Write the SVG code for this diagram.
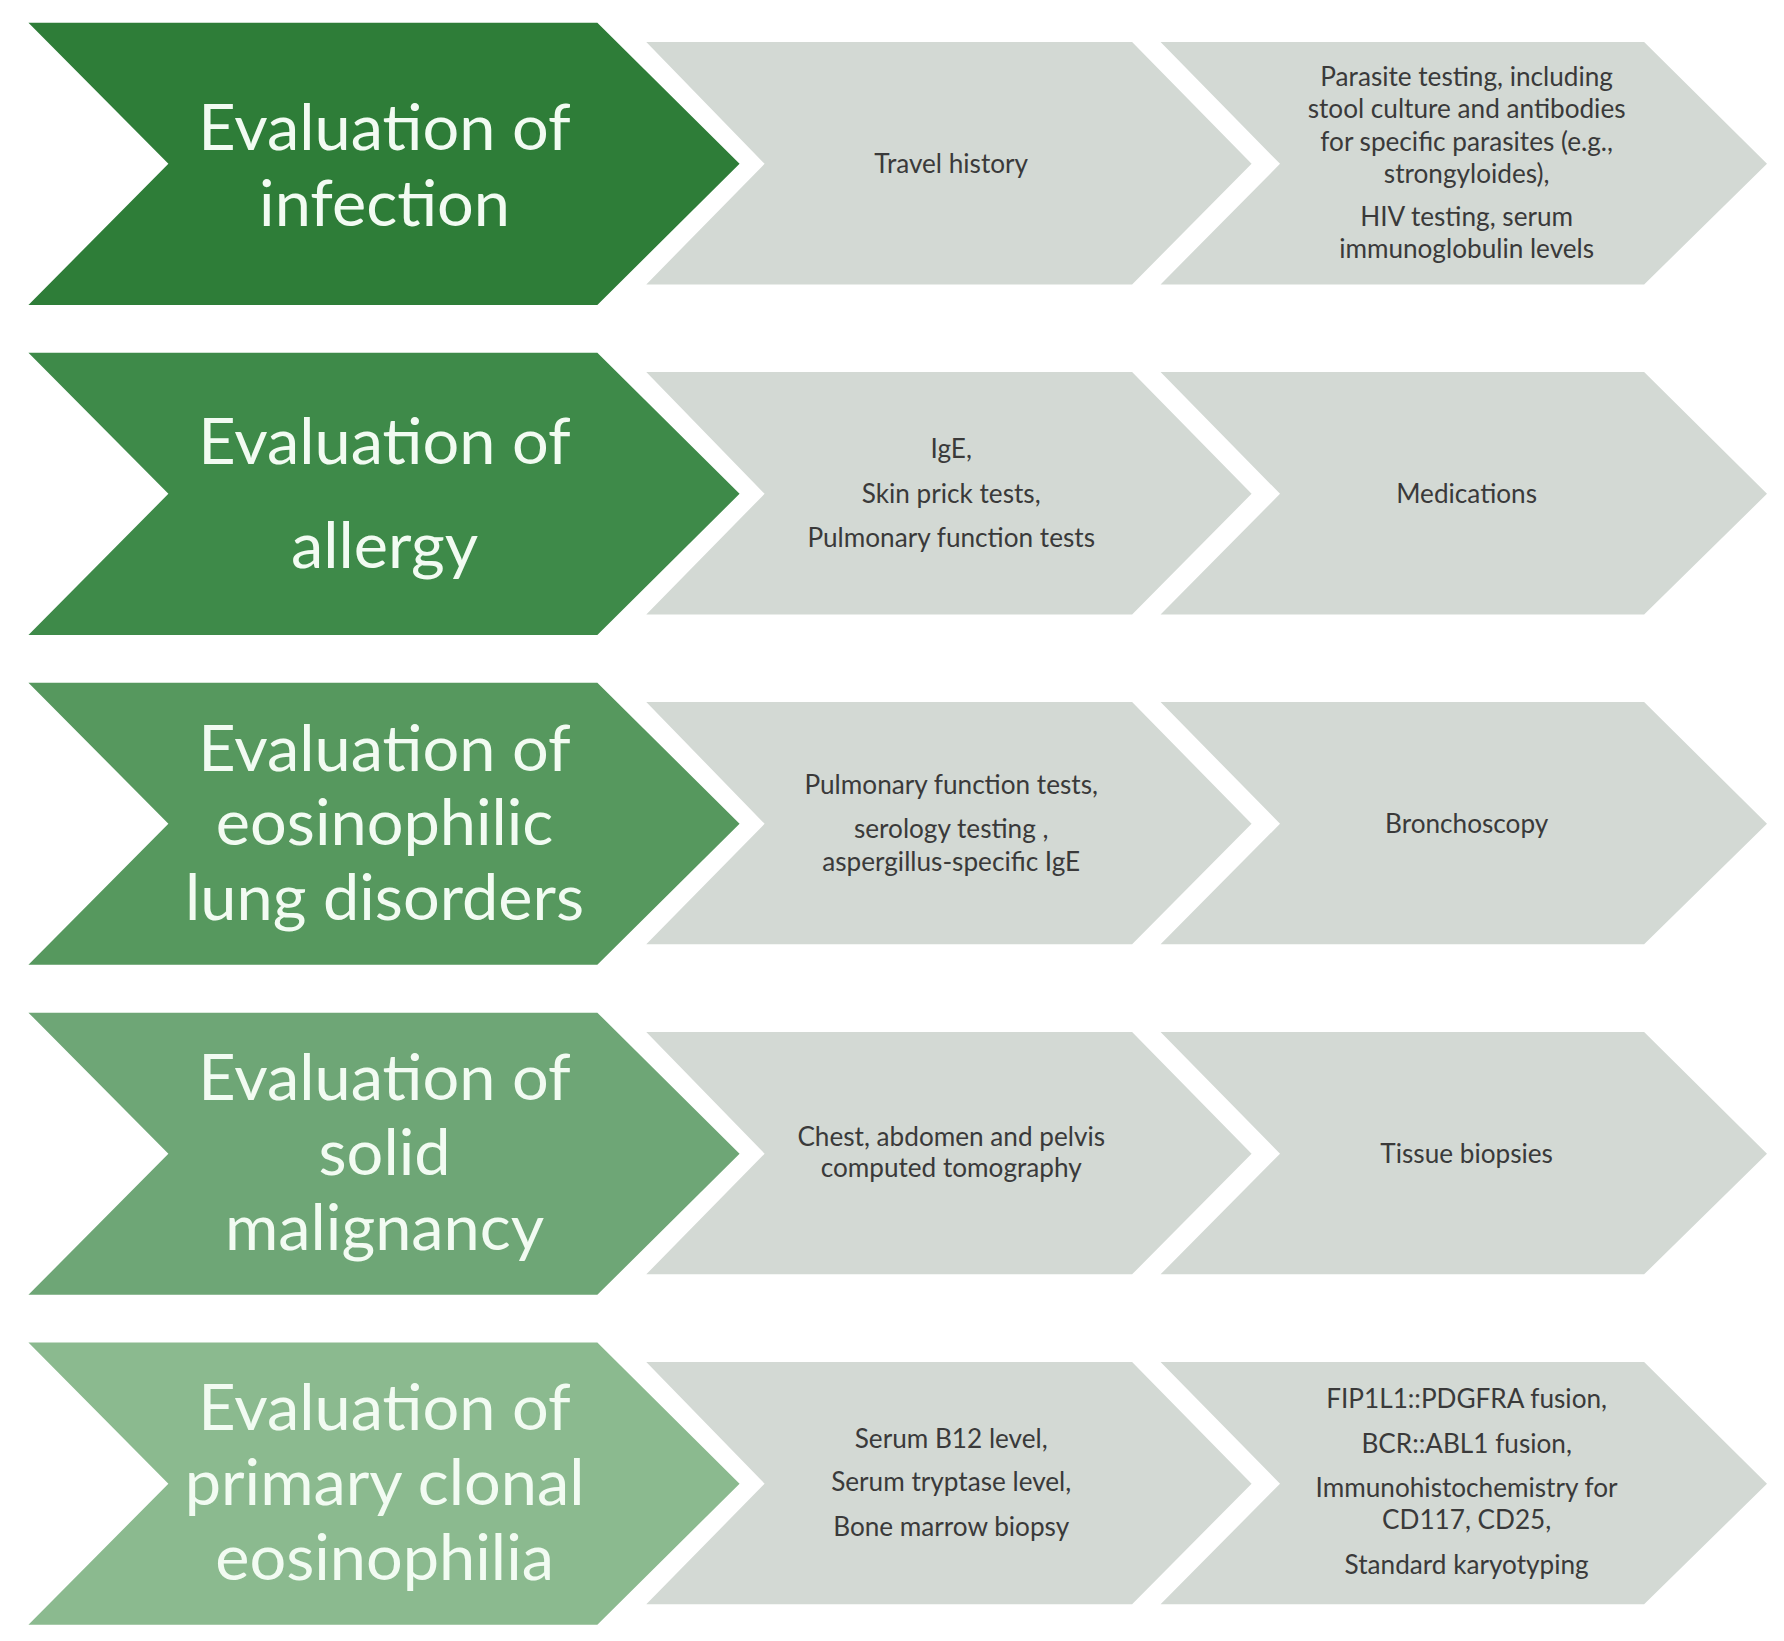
<svg xmlns="http://www.w3.org/2000/svg" width="1784" height="1641" viewBox="0 0 1784 1641">
<style>
.t{font-family:Lato,"Open Sans",sans-serif;fill:#f2fbf2;font-size:57px;text-anchor:middle;dominant-baseline:central}
.s{font-family:Lato,"Open Sans",sans-serif;fill:#3a3a3a;font-size:23px;text-anchor:middle;dominant-baseline:central}
.g{fill:#d3d9d4}
</style>
<defs>
<path id="big" d="M25,0 H525 L650,124 L525,248 H25 L148,124 Z"/>
<path id="c1" d="M568,17 H995 L1100,124 L995,230 H568 L672,124 Z"/>
<path id="c2" d="M1020,17 H1445 L1553,124 L1445,230 H1020 L1125,124 Z"/>
</defs>
<rect width="1784" height="1641" fill="#fff"/>
<g transform="scale(1.1378)">
<g id="row1" transform="translate(0,20)">
<use href="#big" fill="#2e7d38"/><use href="#c1" class="g"/><use href="#c2" class="g"/>
<text class="t" x="338" y="90">Evaluation of</text><text class="t" x="338" y="157">infection</text>
<text class="s" x="836" y="123">Travel history</text>
<text class="s" x="1289" y="47">Parasite testing, including</text>
<text class="s" x="1289" y="75">stool culture and antibodies</text>
<text class="s" x="1289" y="104">for specific parasites (e.g.,</text>
<text class="s" x="1289" y="132">strongyloides),</text>
<text class="s" x="1289" y="170">HIV testing, serum</text>
<text class="s" x="1289" y="198">immunoglobulin levels</text>
</g>
<g id="row2" transform="translate(0,310)">
<use href="#big" fill="#3e8a49"/><use href="#c1" class="g"/><use href="#c2" class="g"/>
<text class="t" x="338" y="76">Evaluation of</text><text class="t" x="338" y="167">allergy</text>
<text class="s" x="836" y="84">IgE,</text>
<text class="s" x="836" y="123">Skin prick tests,</text>
<text class="s" x="836" y="162">Pulmonary function tests</text>
<text class="s" x="1289" y="123">Medications</text>
</g>
<g id="row3" transform="translate(0,600)">
<use href="#big" fill="#56985e"/><use href="#c1" class="g"/><use href="#c2" class="g"/>
<text class="t" x="338" y="56">Evaluation of</text><text class="t" x="338" y="121">eosinophilic</text><text class="t" x="338" y="187">lung disorders</text>
<text class="s" x="836" y="89">Pulmonary function tests,</text>
<text class="s" x="836" y="128">serology testing ,</text>
<text class="s" x="836" y="157">aspergillus-specific IgE</text>
<text class="s" x="1289" y="123">Bronchoscopy</text>
</g>
<g id="row4" transform="translate(0,890)">
<use href="#big" fill="#6ea676"/><use href="#c1" class="g"/><use href="#c2" class="g"/>
<text class="t" x="338" y="55">Evaluation of</text><text class="t" x="338" y="121">solid</text><text class="t" x="338" y="187">malignancy</text>
<text class="s" x="836" y="108">Chest, abdomen and pelvis</text>
<text class="s" x="836" y="136">computed tomography</text>
<text class="s" x="1289" y="123">Tissue biopsies</text>
</g>
<g id="row5" transform="translate(0,1180)">
<use href="#big" fill="#8bba8f"/><use href="#c1" class="g"/><use href="#c2" class="g"/>
<text class="t" x="338" y="55">Evaluation of</text><text class="t" x="338" y="121">primary clonal</text><text class="t" x="338" y="187">eosinophilia</text>
<text class="s" x="836" y="84">Serum B12 level,</text>
<text class="s" x="836" y="122">Serum tryptase level,</text>
<text class="s" x="836" y="161">Bone marrow biopsy</text>
<text class="s" x="1289" y="49">FIP1L1::PDGFRA fusion,</text>
<text class="s" x="1289" y="88">BCR::ABL1 fusion,</text>
<text class="s" x="1289" y="127">Immunohistochemistry for</text>
<text class="s" x="1289" y="155">CD117, CD25,</text>
<text class="s" x="1289" y="195">Standard karyotyping</text>
</g>
<g id="connectors"/>
</g>
</svg>
